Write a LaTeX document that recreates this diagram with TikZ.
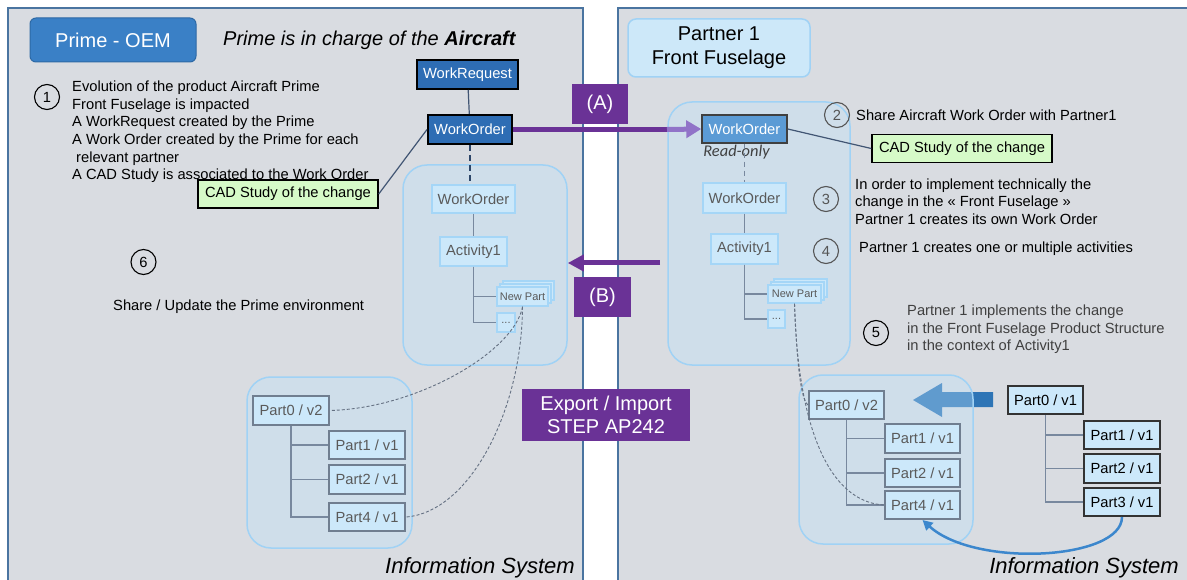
\documentclass[tikz,border=0pt]{standalone}
\usepackage{fontspec}
\setmainfont{Liberation Sans}
\newfontfamily\calibrifont{Carlito}
\usetikzlibrary{arrows.meta, shadows}

\definecolor{panel_gray}{RGB}{217,220,225}
\definecolor{panel_line}{RGB}{74,116,160}
\definecolor{cont_fill}{RGB}{191,226,253}
\definecolor{cont_line}{RGB}{160,210,245}
\definecolor{light_fill}{RGB}{204,232,250}
\definecolor{light_line}{RGB}{165,214,247}
\definecolor{part_line}{RGB}{112,126,144}
\definecolor{gray_txt}{RGB}{90,90,90}
\definecolor{wo_dark}{RGB}{46,109,180}
\definecolor{wo_mid}{RGB}{91,155,213}
\definecolor{oem_blue}{RGB}{58,128,198}
\definecolor{oem_line}{RGB}{45,105,165}
\definecolor{partner_fill}{RGB}{205,232,249}
\definecolor{purple_dk}{RGB}{106,50,150}
\definecolor{purple_lt}{RGB}{145,115,200}
\definecolor{cad_green}{RGB}{214,250,200}
\definecolor{tree_line}{RGB}{120,136,158}
\definecolor{link_line}{RGB}{65,85,115}
\definecolor{link_dk}{RGB}{45,70,105}
\definecolor{trace_line}{RGB}{100,112,130}
\definecolor{arrow_dk}{RGB}{46,117,182}
\definecolor{arrow_blue}{RGB}{60,135,205}
\definecolor{gray_num}{RGB}{85,85,85}

\newcommand{\fsstd}{\fontsize{14.7}{17.6}\selectfont}
\newcommand{\fsbig}{\fontsize{20}{24}\selectfont}
\newcommand{\fssmall}{\fontsize{11}{12}\selectfont}

\tikzstyle{panel}=[fill=panel_gray, draw=panel_line, line width=1.2]
\tikzstyle{container}=[rectangle, rounded corners=24, draw=cont_line,
                       line width=1.5, fill=cont_fill, fill opacity=0.35]
\tikzstyle{element}=[rectangle, inner sep=0, font=\fsstd]
\tikzstyle{dark_item}=[element, fill=wo_dark, draw=black, line width=2, text=white]
\tikzstyle{light_item}=[element, fill=light_fill, draw=light_line,
                        line width=1.5, text=gray_txt]
\tikzstyle{stack}=[double copy shadow={shadow xshift=3pt, shadow yshift=3pt,
                   fill=light_fill, draw=light_line, line width=1.5}]
\tikzstyle{part_item}=[element, fill=light_fill, draw=part_line, line width=2, text=gray_txt]
\tikzstyle{part_new}=[element, fill=light_fill, draw=black!80, line width=2, text=black]
\tikzstyle{cad_item}=[element, fill=cad_green, draw=black, line width=1.5,
                      minimum width=180, minimum height=28]
\tikzstyle{flow_box}=[rectangle, inner sep=0, fill=purple_dk, text=white,
                      font=\fsbig, align=center]
\tikzstyle{number}=[circle, draw, line width=1.1, minimum size=25, inner sep=0, font=\fsstd]
\tikzstyle{note}=[anchor=west, inner sep=0, align=left, font=\fsstd]
\tikzstyle{tree}=[draw=tree_line, line width=1.5]
\tikzstyle{link}=[draw=link_line, line width=1.2]
\tikzstyle{trace}=[draw=trace_line, line width=0.9, dash pattern=on 3pt off 2pt]

\begin{document}
\begin{tikzpicture}[x=1pt, y=-1pt]
  \useasboundingbox (0, 0) rectangle (1187, 580);
  \clip (0, 0) rectangle (1187, 580);
  \fill [white] (0, 0) rectangle (1187, 580);

  %%%%%%%%%%%%%%%%%%%%%%%%%%%%%%
  % panels
  \draw [panel] (8, 8) rectangle (583, 595);
  \draw [panel] (618, 8) rectangle (1200, 595);

  %%%%%%%%%%%%%%%%%%%%%%%%%%%%%%
  %%%%%%%%%%%%%%%%%%%%%%%%%%%%%%
  % prime

  %%%%%%%%%%%%%%%%%%%%%%%%%%%%%%
  % nodes
  \node (prime_oem) at (113, 40) [element, rounded corners=6, fill=oem_blue, draw=oem_line,
        line width=1, text=white, font=\fsbig, minimum width=166, minimum height=44] {Prime - OEM};
  \node (prime_title) at (223, 40) [note, font=\fsbig\itshape] {Prime is in charge of the \textbf{Aircraft}};

  \node (num_1) at (47, 97) [number] {1};
  \node (note_1) at (72, 132) [note] {Evolution of the product Aircraft Prime\\
    Front Fuselage is impacted\\
    A WorkRequest created by the Prime\\
    A Work Order created by the Prime for each\\
    \hspace*{4pt}relevant partner\\
    A CAD Study is associated to the Work Order};

  \node (wr_l) at (467.5, 74.5) [dark_item, minimum width=101, minimum height=29] {WorkRequest};
  \node (wo_l) at (470, 129.5) [dark_item, minimum width=84, minimum height=29] {WorkOrder};
  \node (cad_l) at (288, 194) [cad_item] {CAD Study of the change};

  \node (num_6) at (143.5, 262) [number] {6};
  \node (note_6) at (113, 307) [note] {Share / Update the Prime environment};

  % information system
  \node (cont_l_top) at (485, 265) [container, minimum width=164, minimum height=200] {};
  \node (wo_in_l) at (473.5, 199) [light_item, minimum width=83, minimum height=28] {WorkOrder};
  \node (act_l) at (473.5, 251.5) [light_item, minimum width=67, minimum height=29] {Activity1};
  \node (np_l) at (522.5, 296.5) [light_item, stack, minimum width=51, minimum height=19,
        font=\fssmall] {New Part};
  \node (dots_l) at (506, 322.5) [light_item, minimum width=18, minimum height=19,
        font=\fssmall] {...};

  \node (cont_l_bot) at (329.5, 462.5) [container, minimum width=165, minimum height=171] {};
  \node (p0_l) at (291, 410.5) [part_item, minimum width=76, minimum height=29] {Part0 / v2};
  \node (p1_l) at (367, 445) [part_item, minimum width=76, minimum height=28] {Part1 / v1};
  \node (p2_l) at (367, 479.5) [part_item, minimum width=76, minimum height=29] {Part2 / v1};
  \node (p4_l) at (367, 517) [part_item, minimum width=76, minimum height=28] {Part4 / v1};

  \node (is_l) at (480, 568) [inner sep=0, font=\fontsize{22}{22}\selectfont\itshape] {Information System};

  %%%%%%%%%%%%%%%%%%%%%%%%%%%%%%
  % exchange
  \node (a_box) at (600, 104) [flow_box, minimum width=56, minimum height=40] {(A)};
  \node (b_box) at (602.5, 297) [flow_box, minimum width=57, minimum height=40] {(B)};
  \node (exp_box) at (606, 415) [flow_box, minimum width=168, minimum height=52,
        font=\fontsize{20}{23}\selectfont] {Export / Import\\STEP AP242};

  %%%%%%%%%%%%%%%%%%%%%%%%%%%%%%
  %%%%%%%%%%%%%%%%%%%%%%%%%%%%%%
  % partner

  %%%%%%%%%%%%%%%%%%%%%%%%%%%%%%
  % nodes
  \node (partner) at (719, 48) [element, rounded corners=8, fill=partner_fill, draw=cont_line,
        line width=1.5, font=\fsbig, align=center, minimum width=182, minimum height=58] {Partner 1\\Front Fuselage};

  \node (cont_r_top) at (759, 233.5) [container, minimum width=182, minimum height=263] {};
  \node (wo_ro) at (744.5, 129) [element, fill=wo_mid, draw=black!75, line width=1.5, text=white,
        minimum width=85, minimum height=28] {WorkOrder};
  \node (ro_label) at (736.5, 152) [inner sep=0, text=black!75,
        font=\calibrifont\itshape\fontsize{16.4}{16.4}\selectfont] {Read-only};
  \node (wo_in_r) at (744.5, 198) [light_item, minimum width=83, minimum height=30] {WorkOrder};
  \node (act_r) at (744.5, 249) [light_item, minimum width=67, minimum height=30] {Activity1};
  \node (np_r) at (794.5, 294) [light_item, stack, minimum width=53, minimum height=18,
        font=\fssmall] {New Part};
  \node (dots_r) at (776.5, 319) [light_item, minimum width=17, minimum height=18,
        font=\fssmall] {...};

  \node (num_2) at (837, 115) [number, draw=gray_num, text=gray_num] {2};
  \node (note_2) at (856, 115) [note] {Share Aircraft Work Order with Partner1};
  \node (cad_r) at (962, 148.5) [cad_item] {CAD Study of the change};
  \node (num_3) at (826, 199) [number, draw=gray_num, text=gray_num] {3};
  \node (note_3) at (855, 201.5) [note] {In order to implement technically the\\
    change in the « Front Fuselage »\\
    Partner 1 creates its own Work Order};
  \node (num_4) at (826, 251) [number, draw=gray_num, text=gray_num] {4};
  \node (note_4) at (859, 249) [note] {Partner 1 creates one or multiple activities};
  \node (num_5) at (876, 333) [number] {5};
  \node (note_5) at (907, 329.5) [note, text=black!75] {Partner 1 implements the change\\
    in the Front Fuselage Product Structure\\
    in the context of Activity1};

  % import
  \fill [arrow_dk] (993, 392) -- (942, 392) -- (942, 383) -- (913, 400)
        -- (942, 417) -- (942, 407) -- (993, 407) -- cycle;

  \node (cont_r_bot) at (886, 459.5) [container, minimum width=174, minimum height=169] {};
  \node (p0_r2) at (846.5, 405) [part_item, minimum width=75, minimum height=28] {Part0 / v2};
  \node (p1_r2) at (922.5, 438.5) [part_item, minimum width=75, minimum height=29] {Part1 / v1};
  \node (p2_r2) at (922.5, 473) [part_item, minimum width=75, minimum height=28] {Part2 / v1};
  \node (p4_r2) at (922.5, 505) [part_item, minimum width=75, minimum height=28] {Part4 / v1};

  \node (p0_r1) at (1045.5, 400) [part_new, minimum width=75, minimum height=28] {Part0 / v1};
  \node (p1_r1) at (1122, 435) [part_new, minimum width=76, minimum height=28] {Part1 / v1};
  \node (p2_r1) at (1122, 468.5) [part_new, minimum width=76, minimum height=29] {Part2 / v1};
  \node (p3_r1) at (1122, 502) [part_new, minimum width=76, minimum height=28] {Part3 / v1};

  \node (is_r) at (1084, 568) [inner sep=0, font=\fontsize{22}{22}\selectfont\itshape] {Information System};

  %%%%%%%%%%%%%%%%%%%%%%%%%%%%%%
  % links
  % prime
  \draw [link] (wr_l) -- (wo_l);
  \draw [link] (wo_l.west) -- (cad_l.east);
  \draw [draw=link_dk, line width=2.5, dash pattern=on 6pt off 4pt] (wo_l.south) -- (wo_l.south |- wo_in_l.north);
  \draw [tree] (wo_in_l) -- (act_l);
  \draw [tree] (act_l.south) |- (np_l.west);
  \draw [tree] (act_l.south) |- (dots_l.west);
  \draw [tree] (p0_l.south) |- (p1_l.west);
  \draw [tree] (p0_l.south) |- (p2_l.west);
  \draw [tree] (p0_l.south) |- (p4_l.west);
  \draw [trace] (np_l.south) .. controls (515, 350) and (420, 408) .. (p0_l.east);
  \draw [trace] (np_l.south) .. controls (522, 410) and (470, 512) .. (p4_l.east);

  % partner
  \draw [link] (wo_ro.east) -- (cad_r.west);
  \draw [tree, line width=1.2, dash pattern=on 5pt off 4pt] (wo_ro.south) -- (wo_in_r.north);
  \draw [tree] (wo_in_r) -- (act_r);
  \draw [tree] (act_r.south) |- (np_r.west);
  \draw [tree] (act_r.south) |- (dots_r.west);
  \draw [tree] (p0_r2.south) |- (p1_r2.west);
  \draw [tree] (p0_r2.south) |- (p2_r2.west);
  \draw [tree] (p0_r2.south) |- (p4_r2.west);
  \draw [tree] (p0_r1.south) |- (p1_r1.west);
  \draw [tree] (p0_r1.south) |- (p2_r1.west);
  \draw [tree] (p0_r1.south) |- (p3_r1.west);
  \draw [trace] (np_r.south) .. controls (797, 360) and (800, 398) .. (p0_r2.west);
  \draw [trace] (np_r.south) .. controls (798, 430) and (830, 502) .. (p4_r2.west);
  \draw [-{Triangle[length=10pt, width=10pt]}, arrow_blue, line width=2.5]
        (p3_r1.south) .. controls (1122, 560) and (975, 568) .. (p4_r2.south);

  % exchange
  \coordinate (a_mid) at (667, 129.5);
  \draw [purple_dk, line width=5] (wo_l.east) -- (a_mid);
  \draw [-{Triangle[length=15pt, width=17pt]}, purple_lt, line width=5] (a_mid) -- (wo_ro.west);
  \coordinate (b_from) at (660, 263);
  \draw [-{Triangle[length=16pt, width=16pt]}, purple_dk, line width=5] (b_from) -- (b_from -| cont_l_top.east);

\end{tikzpicture}
\end{document}
